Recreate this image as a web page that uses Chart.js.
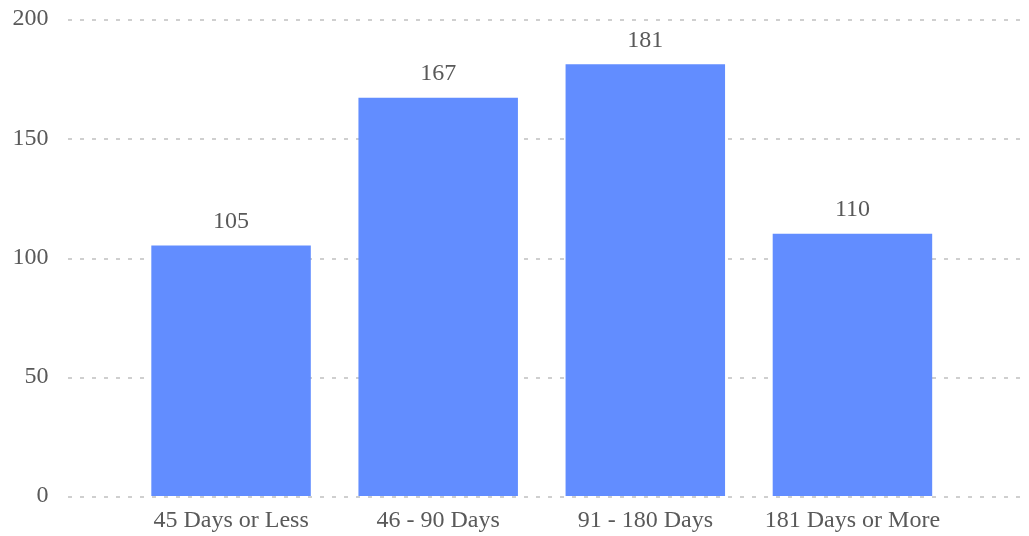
<!DOCTYPE html>
<html>
<head>
<meta charset="utf-8">
<script src="https://cdn.jsdelivr.net/npm/chart.js@4/dist/chart.umd.min.js"></script>
<style>
  html, body { margin: 0; padding: 0; background: #fff; overflow: hidden; }
  canvas { display: block; }
</style>
</head>
<body>
<canvas id="agingChart" width="1029" height="536"></canvas>
<script>
const categorias = ['45 Days or Less', '46 - 90 Days', '91 - 180 Days', '181 Days or More'];
const valores = [105, 167, 181, 110];
const ticksY = [0, 50, 100, 150, 200];

const fuente = "'Liberation Serif', 'Times New Roman', serif";
const gris = '#595959';

// lineas punteadas a todo lo ancho, como en el original
const gridPunteado = {
  id: 'gridPunteado',
  beforeDatasetsDraw(chart) {
    const { ctx, scales } = chart;
    ctx.save();
    ctx.strokeStyle = '#cfcfcf';
    ctx.lineWidth = 2;
    ctx.setLineDash([4, 8]);
    ticksY.forEach(v => {
      const y = Math.round(scales.y.getPixelForValue(v)) + 1;
      ctx.beginPath();
      ctx.moveTo(68, y);
      ctx.lineTo(1020, y);
      ctx.stroke();
    });
    ctx.restore();
  }
};

// numeros encima de cada barra
const etiquetas = {
  id: 'etiquetas',
  afterDatasetsDraw(chart) {
    const { ctx } = chart;
    const meta = chart.getDatasetMeta(0);
    ctx.save();
    ctx.fillStyle = gris;
    ctx.font = '24px ' + fuente;
    ctx.textAlign = 'center';
    ctx.textBaseline = 'bottom';
    meta.data.forEach((bar, i) => {
      ctx.fillText(valores[i], bar.x, bar.y - 12);
    });
    ctx.restore();
  }
};

const ctx = document.getElementById('agingChart').getContext('2d');
new Chart(ctx, {
  type: 'bar',
  data: {
    labels: categorias,
    datasets: [{
      data: valores,
      backgroundColor: '#628dff',
      borderWidth: 0,
      categoryPercentage: 1,
      barPercentage: 0.77
    }]
  },
  options: {
    responsive: false,
    animation: false,
    layout: { padding: { left: 12, right: 73, top: 19, bottom: 3 } },
    plugins: {
      legend: { display: false },
      tooltip: { enabled: false }
    },
    scales: {
      x: {
        grid: { display: false, drawTicks: false },
        border: { display: false },
        ticks: { color: gris, font: { family: fuente, size: 24 }, padding: 10 },
        afterFit(scale) {
          scale.height = 37;
        }
      },
      y: {
        min: 0,
        max: 200,
        grid: { display: false, drawTicks: false },
        border: { display: false },
        ticks: {
          stepSize: 50,
          color: gris,
          font: { family: fuente, size: 24 },
          padding: 79
        },
        // el padding grande de los ticks no debe comerse el alto del grafico
        afterFit(scale) {
          scale.width = 115.5;
          scale.paddingTop = 0;
          scale.paddingBottom = 0;
        }
      }
    }
  },
  plugins: [gridPunteado, etiquetas]
});
</script>
</body>
</html>
